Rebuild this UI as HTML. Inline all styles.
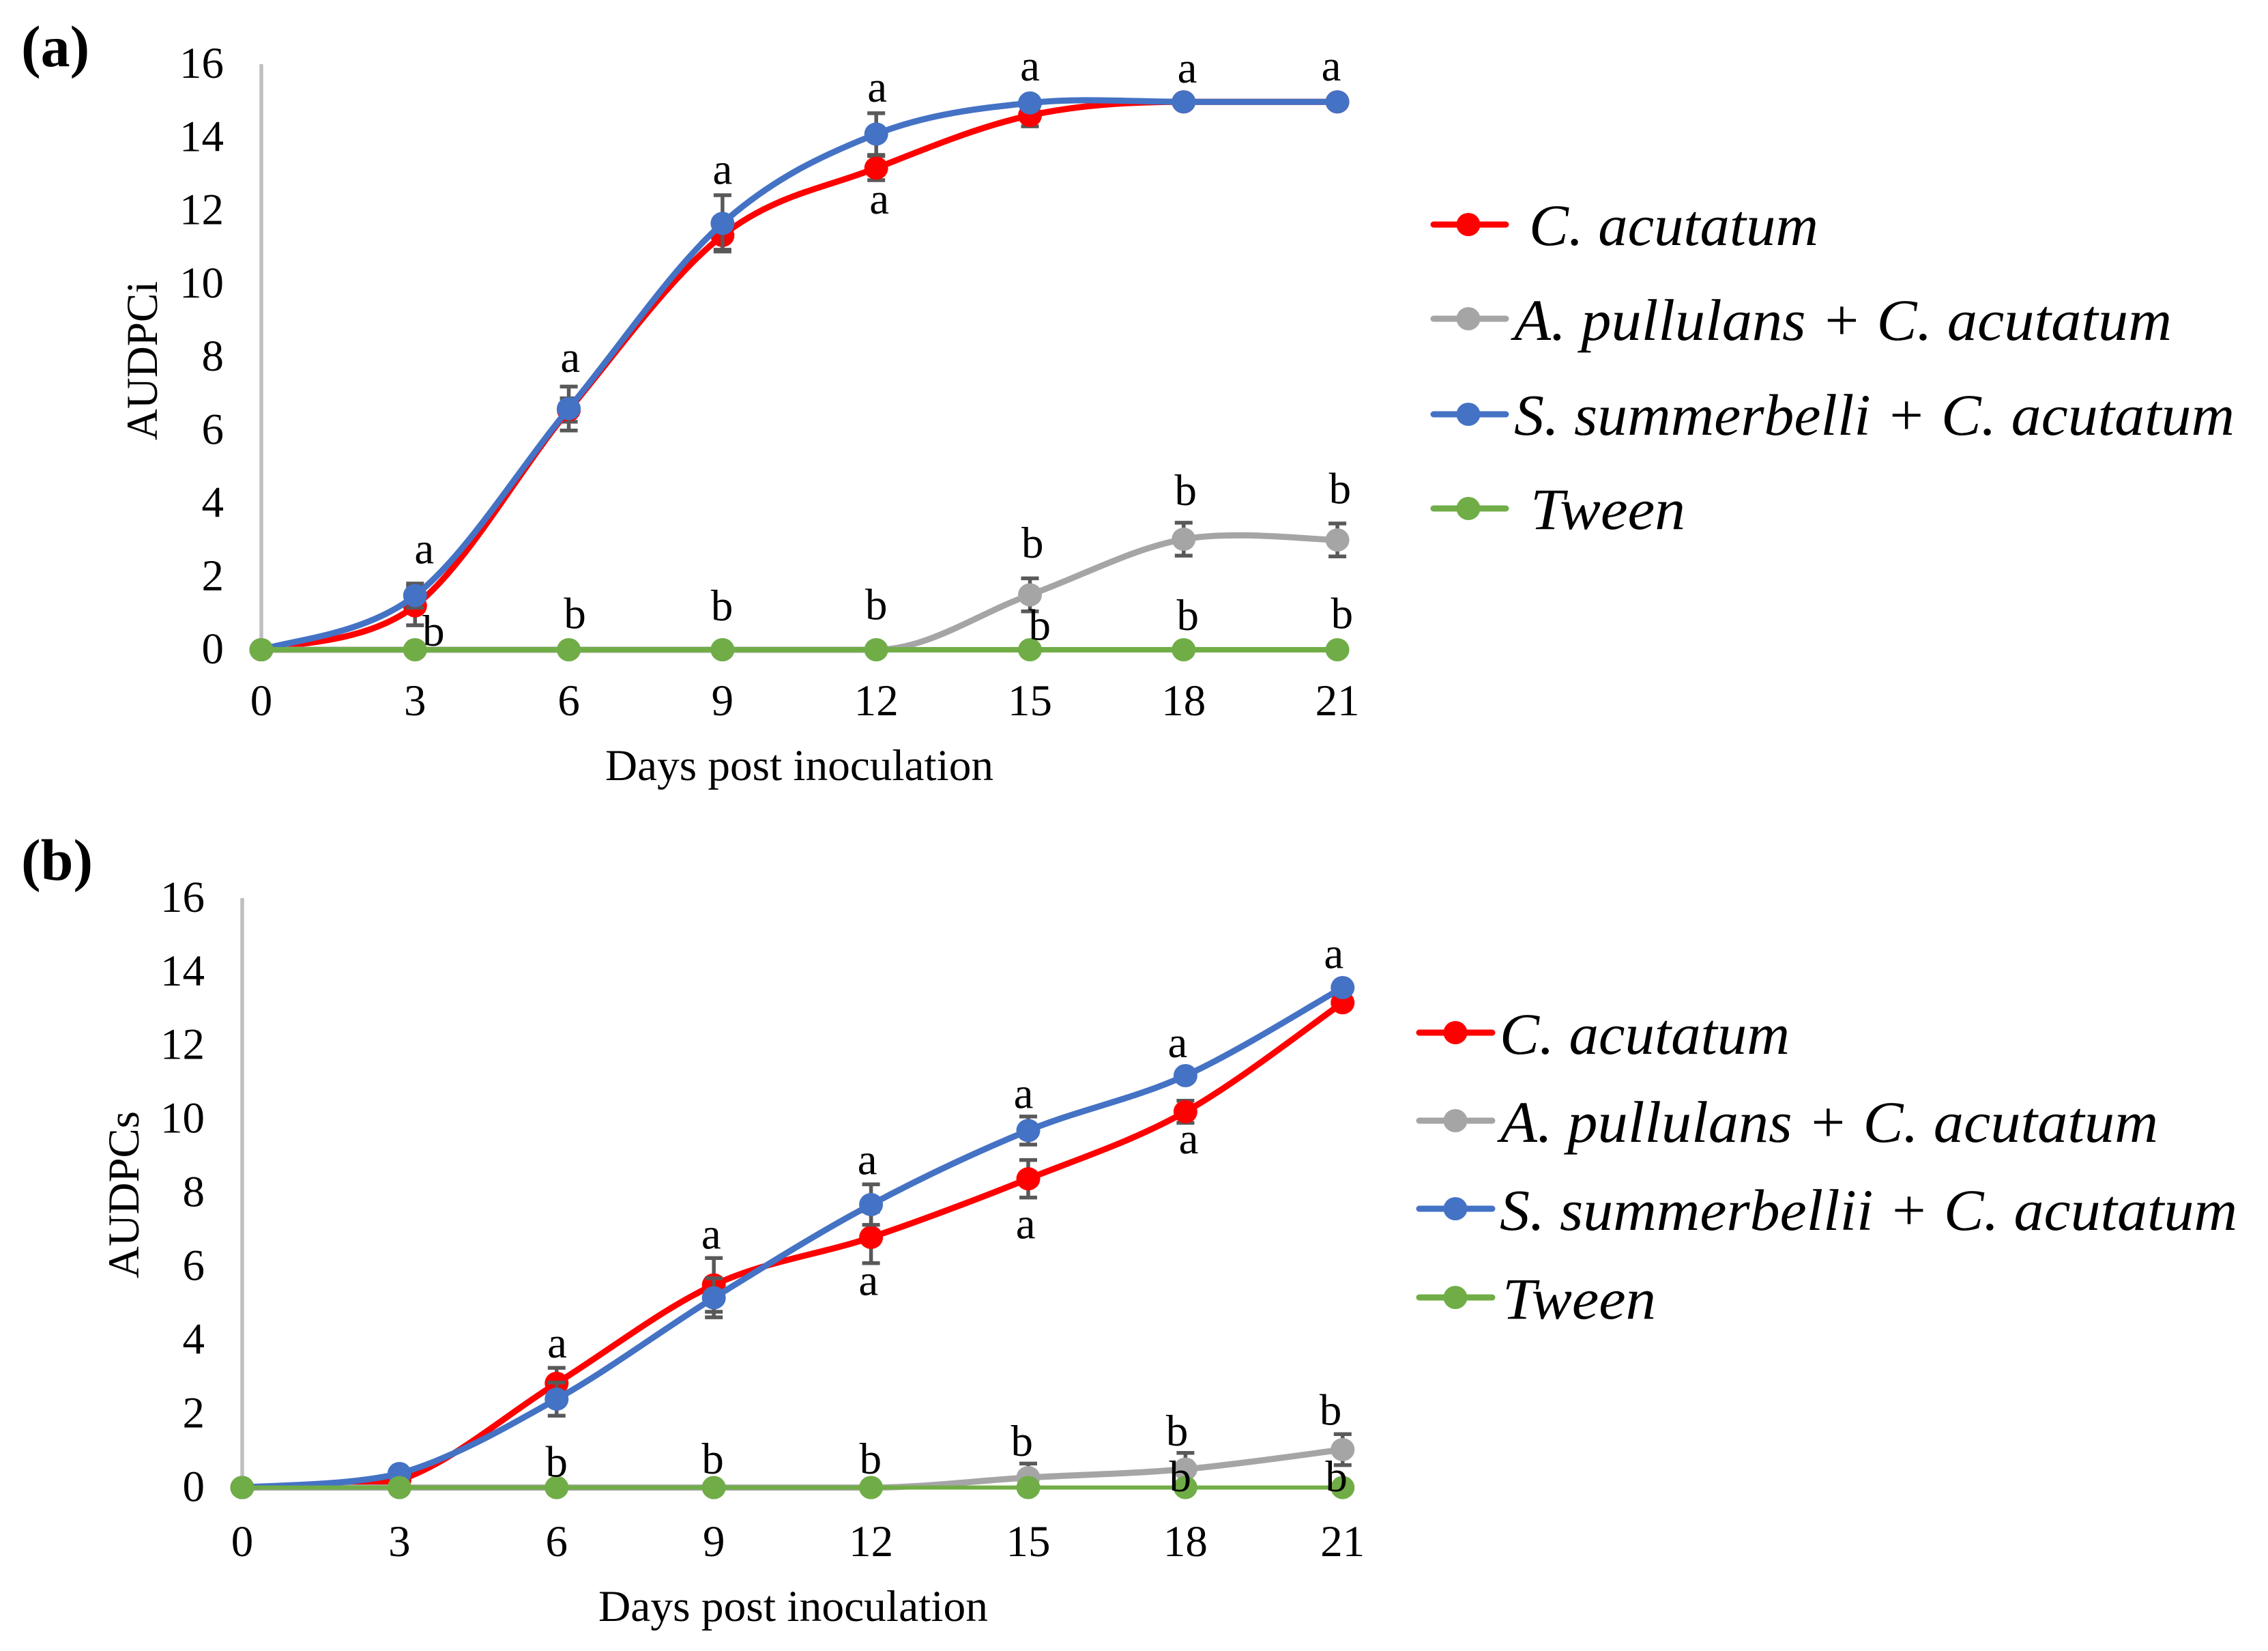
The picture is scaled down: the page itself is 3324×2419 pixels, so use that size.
<!DOCTYPE html>
<html lang="en">
<head>
<meta charset="utf-8">
<title>AUDPCi and AUDPCs over days post inoculation</title>
<style>
html,body{margin:0;padding:0;background:#fff}
svg{display:block}
text{font-family:"Liberation Serif","Times New Roman",serif;fill:#000}
.leg{font-style:italic;font-size:86px}
.tick{font-size:65px}
.title{font-size:65px}
.panel{font-size:86px;font-weight:bold}
.sig{font-size:65px;text-anchor:middle}
</style>
</head>
<body>
<svg id="figure" xmlns="http://www.w3.org/2000/svg" width="3324" height="2419" viewBox="0 0 3324 2419">
  <rect width="3324" height="2419" fill="#ffffff"/>
  <text class="panel" x="31" y="97">(a)</text>
  <text class="panel" x="31" y="1289">(b)</text>

  <text class="title" x="887" y="1143" textLength="569" lengthAdjust="spacingAndGlyphs">Days post inoculation</text>
  <text class="title" transform="translate(230,645) rotate(-90)" textLength="233" lengthAdjust="spacingAndGlyphs">AUDPCi</text>
  <text class="title" x="877" y="2375" textLength="571" lengthAdjust="spacingAndGlyphs">Days post inoculation</text>
  <text class="title" transform="translate(203,1873) rotate(-90)" textLength="245" lengthAdjust="spacingAndGlyphs">AUDPCs</text>

  <g>
    <g>
      <line x1="2101" x2="2207" y1="329" y2="329" stroke="#ff0000" stroke-width="9" stroke-linecap="round"/>
      <ellipse cx="2152" cy="329" rx="17.5" ry="17" fill="#ff0000"/>
      <text class="leg" x="2241" y="359" textLength="424" lengthAdjust="spacingAndGlyphs">C. acutatum</text>
    </g>
    <g>
      <line x1="2101" x2="2207" y1="467" y2="467" stroke="#a5a5a5" stroke-width="9" stroke-linecap="round"/>
      <ellipse cx="2152" cy="467" rx="17.5" ry="17" fill="#a5a5a5"/>
      <text class="leg" x="2219" y="498" textLength="964" lengthAdjust="spacingAndGlyphs">A. pullulans + C. acutatum</text>
    </g>
    <g>
      <line x1="2101" x2="2207" y1="607" y2="607" stroke="#4472c4" stroke-width="9" stroke-linecap="round"/>
      <ellipse cx="2152" cy="607" rx="17.5" ry="17" fill="#4472c4"/>
      <text class="leg" x="2219" y="637" textLength="1056" lengthAdjust="spacingAndGlyphs">S. summerbelli + C. acutatum</text>
    </g>
    <g>
      <line x1="2101" x2="2207" y1="745" y2="745" stroke="#70ad47" stroke-width="9" stroke-linecap="round"/>
      <ellipse cx="2152" cy="745" rx="17.5" ry="17" fill="#70ad47"/>
      <text class="leg" x="2243" y="775" textLength="227" lengthAdjust="spacingAndGlyphs">Tween</text>
    </g>
  </g>

  <g>
    <g>
      <line x1="2080" x2="2187" y1="1513" y2="1513" stroke="#ff0000" stroke-width="9" stroke-linecap="round"/>
      <ellipse cx="2133" cy="1513" rx="17.5" ry="17" fill="#ff0000"/>
      <text class="leg" x="2198" y="1544" textLength="425" lengthAdjust="spacingAndGlyphs">C. acutatum</text>
    </g>
    <g>
      <line x1="2080" x2="2187" y1="1642" y2="1642" stroke="#a5a5a5" stroke-width="9" stroke-linecap="round"/>
      <ellipse cx="2133" cy="1642" rx="17.5" ry="17" fill="#a5a5a5"/>
      <text class="leg" x="2199" y="1673" textLength="964" lengthAdjust="spacingAndGlyphs">A. pullulans + C. acutatum</text>
    </g>
    <g>
      <line x1="2080" x2="2187" y1="1771" y2="1771" stroke="#4472c4" stroke-width="9" stroke-linecap="round"/>
      <ellipse cx="2133" cy="1771" rx="17.5" ry="17" fill="#4472c4"/>
      <text class="leg" x="2198" y="1802" textLength="1081" lengthAdjust="spacingAndGlyphs">S. summerbellii + C. acutatum</text>
    </g>
    <g>
      <line x1="2080" x2="2187" y1="1901" y2="1901" stroke="#70ad47" stroke-width="9" stroke-linecap="round"/>
      <ellipse cx="2133" cy="1901" rx="17.5" ry="17" fill="#70ad47"/>
      <text class="leg" x="2202" y="1932" textLength="225" lengthAdjust="spacingAndGlyphs">Tween</text>
    </g>
  </g>
</svg>
<script>
// Shared data
const days = [0, 3, 6, 9, 12, 15, 18, 21];
const yTickLabels = [0, 2, 4, 6, 8, 10, 12, 14, 16];

// Panel (a) AUDPCi
const aRed = [0, 1.2, 6.55, 11.32, 13.16, 14.6, 14.97, 14.97];
const aGray = [0, 0, 0, 0, 0, 1.5, 3.02, 3.0];
const aBlue = [0, 1.48, 6.59, 11.65, 14.09, 14.94, 14.97, 14.97];
const aGreen = [0, 0, 0, 0, 0, 0, 0, 0];
const aRedErr = [0, 0.53, 0.32, 0.39, 0.33, 0.3, 0, 0];
const aGrayErr = [0, 0, 0, 0, 0, 0.45, 0.45, 0.45];
const aBlueErr = [0, 0.33, 0.6, 0.77, 0.57, 0, 0, 0];
const aGreenErr = [0, 0, 0, 0, 0, 0, 0, 0];
const aSigDays = [3.18, 3.36, 6.03, 6.12, 9, 8.99, 12.02, 12.06, 12, 15, 15.05, 15.19, 18.07, 18.04, 18.08, 20.88, 21.05, 21.09];
const aSigLevels = [2.36, 0.11, 7.59, 0.59, 12.73, 0.8, 14.97, 11.92, 0.83, 15.55, 2.52, 0.27, 15.5, 3.95, 0.54, 15.55, 4, 0.59];
const aSigLetters = ['a', 'b', 'a', 'b', 'a', 'b', 'a', 'a', 'b', 'a', 'b', 'b', 'a', 'b', 'b', 'a', 'b', 'b'];

// Panel (b) AUDPCs
const bRed = [0, 0.2, 2.83, 5.5, 6.79, 8.38, 10.2, 13.16];
const bGray = [0, 0, 0, 0, 0, 0.27, 0.5, 1.03];
const bBlue = [0, 0.38, 2.4, 5.15, 7.68, 9.69, 11.18, 13.57];
const bGreen = [0, 0, 0, 0, 0, 0, 0, 0];
const bRedErr = [0, 0, 0.42, 0.73, 0.7, 0.51, 0.3, 0];
const bGrayErr = [0, 0, 0, 0, 0, 0.38, 0.44, 0.42];
const bBlueErr = [0, 0, 0.45, 0.53, 0.55, 0.38, 0, 0];
const bGreenErr = [0, 0, 0, 0, 0, 0, 0, 0];
const bSigDays = [6.01, 6, 8.95, 8.98, 11.93, 11.95, 11.99, 14.91, 14.95, 14.88, 17.85, 18.06, 17.84, 17.9, 20.83, 20.77, 20.88];
const bSigLevels = [3.53, 0.3, 6.48, 0.38, 8.5, 5.22, 0.38, 10.3, 6.76, 0.86, 11.68, 9.07, 1.14, -0.1, 14.1, 1.7, -0.1];
const bSigLetters = ['a', 'b', 'a', 'b', 'a', 'a', 'b', 'a', 'a', 'b', 'a', 'a', 'b', 'b', 'a', 'b', 'b'];

const seriesNames = ['c-acutatum', 'a-pullulans', 's-summerbelli', 'tween'];
const seriesColors = ['#ff0000', '#a5a5a5', '#4472c4', '#70ad47'];

const NS = 'http://www.w3.org/2000/svg';
const figure = document.getElementById('figure');

function make(parent, tag, attrs) {
  const el = document.createElementNS(NS, tag);
  for (const k in attrs) el.setAttribute(k, attrs[k]);
  parent.appendChild(el);
  return el;
}

// Excel-like smoothed path: flat stretches stay flat, and the incoming handle
// never reaches past the previous point, so curves do not dip below the start.
function smoothPath(xs, ys) {
  const n = xs.length;
  const slopeX = [], slopeY = [], inY = [];
  for (let i = 0; i < n; i++) {
    const p = Math.max(i - 1, 0), q = Math.min(i + 1, n - 1);
    const flat = (i > 0 && ys[i] === ys[i - 1]) || (i < n - 1 && ys[i] === ys[i + 1]);
    const dy = flat ? 0 : (ys[q] - ys[p]) / 6;
    slopeX.push((xs[q] - xs[p]) / 6);
    slopeY.push(dy);
    const limit = i > 0 ? Math.abs(ys[i] - ys[i - 1]) * 0.9 : Math.abs(dy);
    inY.push(Math.sign(dy) * Math.min(Math.abs(dy), limit));
  }
  let d = 'M' + xs[0] + ' ' + ys[0];
  for (let i = 0; i < n - 1; i++) {
    d += ' C' + (xs[i] + slopeX[i]) + ' ' + (ys[i] + slopeY[i]) + ' ' +
         (xs[i + 1] - slopeX[i + 1]) + ' ' + (ys[i + 1] - inY[i + 1]) + ' ' +
         xs[i + 1] + ' ' + ys[i + 1];
  }
  return d;
}

function drawChart(cfg) {
  const x = cfg.x, y = cfg.y;
  const g = make(figure, 'g', {});
  
  

  const axis = make(g, 'line', { x1: x(0), x2: x(0), y1: y(16), y2: y(0), stroke: '#bfbfbf', 'stroke-width': 5.5 });
  
  

  yTickLabels.forEach(function (v) {
    const t = make(g, 'text', { class: 'tick', x: cfg.yLabelRight, y: y(v) + 20, 'text-anchor': 'end' });
    t.textContent = v;
    
    
  });
  days.forEach(function (v) {
    const t = make(g, 'text', { class: 'tick', x: x(v), y: cfg.xLabelBase, 'text-anchor': 'middle' });
    t.textContent = v;
    
    
  });

  cfg.series.forEach(function (vals, s) {
    const color = seriesColors[s];
    const sg = make(g, 'g', {});
    
    

    cfg.errors[s].forEach(function (e, i) {
      if (!e) return;
      const px = x(days[i]);
      const top = y(vals[i] + e), bot = y(vals[i] - e);
      const bar = make(sg, 'path', {
        d: 'M' + px + ' ' + top + 'V' + bot + 'M' + (px - 13) + ' ' + top + 'H' + (px + 13) + 'M' + (px - 13) + ' ' + bot + 'H' + (px + 13),
        stroke: '#595959', 'stroke-width': 5.5, fill: 'none'
      });
      
      
    });

    const line = make(sg, 'path', {
      d: smoothPath(days.map(x), vals.map(y)),
      fill: 'none', stroke: color, 'stroke-width': s === 3 ? cfg.greenWidth : 9, 'stroke-linecap': 'round', 'stroke-linejoin': 'round'
    });
    
    

    vals.forEach(function (v, i) {
      const dot = make(sg, 'ellipse', { cx: x(days[i]), cy: y(v), rx: 17.5, ry: 17, fill: color });
      
      
    });
  });

  cfg.sigLetters.forEach(function (letter, i) {
    const t = make(g, 'text', { class: 'sig', x: x(cfg.sigDays[i]), y: y(cfg.sigLevels[i]) });
    t.textContent = letter;
    
    
  });
}

drawChart({
  id: 'a',
  x: function (d) { return 383 + d * 75.1; },
  y: function (v) { return 952 - v * 53.625; },
  yLabelRight: 328,
  xLabelBase: 1048,
  greenWidth: 8,
  series: [aRed, aGray, aBlue, aGreen],
  errors: [aRedErr, aGrayErr, aBlueErr, aGreenErr],
  sigDays: aSigDays, sigLevels: aSigLevels, sigLetters: aSigLetters
});

drawChart({
  id: 'b',
  x: function (d) { return 355 + d * 76.8; },
  y: function (v) { return 2179.5 - v * 53.98; },
  yLabelRight: 300,
  xLabelBase: 2280,
  greenWidth: 6,
  series: [bRed, bGray, bBlue, bGreen],
  errors: [bRedErr, bGrayErr, bBlueErr, bGreenErr],
  sigDays: bSigDays, sigLevels: bSigLevels, sigLetters: bSigLetters
});
</script>
</body>
</html>
